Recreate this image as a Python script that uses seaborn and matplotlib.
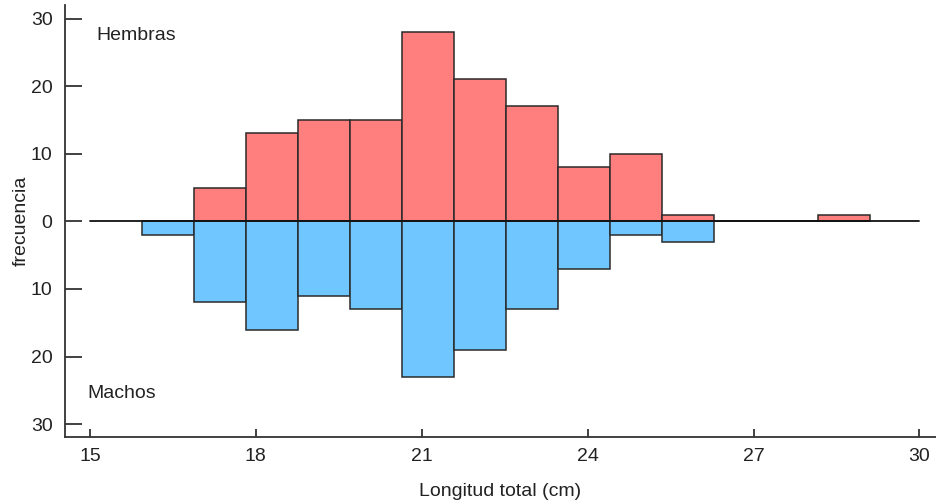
import numpy as np
import pandas as pd
import matplotlib
matplotlib.use("Agg")
import matplotlib.pyplot as plt
import seaborn as sns
from matplotlib.ticker import FuncFormatter

# Bin edges (cm)
bin_edges = [15.94, 16.88, 17.82, 18.76, 19.70, 20.64, 21.58, 22.52,
             23.46, 24.40, 25.34, 26.28, 27.22, 28.16, 29.10]
hembras = [0, 5, 13, 15, 15, 28, 21, 17, 8, 10, 1, 0, 0, 1]
machos = [2, 12, 16, 11, 13, 23, 19, 13, 7, 2, 3, 0, 0, 0]
x_ticks = [15, 18, 21, 24, 27, 30]
y_ticks = [-30, -20, -10, 0, 10, 20, 30]

edges = np.array(bin_edges)
centers = (edges[:-1] + edges[1:]) / 2
df_h = pd.DataFrame({"x": centers, "w": hembras})
df_m = pd.DataFrame({"x": centers, "w": -np.array(machos)})

sns.set_style("ticks")
plt.rcParams["font.family"] = ["Liberation Sans", "DejaVu Sans"]

fig = plt.figure(figsize=(9.36, 5.04), dpi=100)
ax = fig.add_axes([65/936, (504-437)/504, (936-65)/936, (437-5)/504])

sns.histplot(data=df_h, x="x", weights="w", bins=list(bin_edges), ax=ax,
             color="#FF7F7F", alpha=1, edgecolor="#2a2a2a", linewidth=1.1)
sns.histplot(data=df_m, x="x", weights="w", bins=list(bin_edges), ax=ax,
             color="#70C6FF", alpha=1, edgecolor="#2a2a2a", linewidth=1.1)

ax.plot([15, 30], [0, 0], color="#111111", lw=1.3, zorder=5)

ax.set_xlim(14.55, 30.3)
ax.set_ylim(-31.9, 32.0)
ax.set_xticks(x_ticks)
ax.set_yticks(y_ticks)
ax.yaxis.set_major_formatter(FuncFormatter(lambda v, p: f"{abs(int(round(v)))}"))

for s in ["top", "right"]:
    ax.spines[s].set_visible(False)
for s in ["left", "bottom"]:
    ax.spines[s].set_color("#333333")
    ax.spines[s].set_linewidth(1.3)

ax.tick_params(axis="y", direction="in", length=12, width=1.3, color="#333333",
               labelsize=14, pad=9, labelcolor="#222222")
ax.tick_params(axis="x", direction="in", length=6, width=1.3, color="#333333",
               labelsize=14, pad=8, labelcolor="#222222")

ax.set_xlabel("Longitud total (cm)", fontsize=14, color="#222222", labelpad=13)
ax.set_ylabel("frecuencia", fontsize=14, color="#222222", labelpad=1)

ax.text(15.12, 27.5, "Hembras", fontsize=14, color="#222222", va="center", ha="left")
ax.text(14.95, -25.5, "Machos", fontsize=14, color="#222222", va="center", ha="left")

fig.savefig("out.png", dpi=100)
